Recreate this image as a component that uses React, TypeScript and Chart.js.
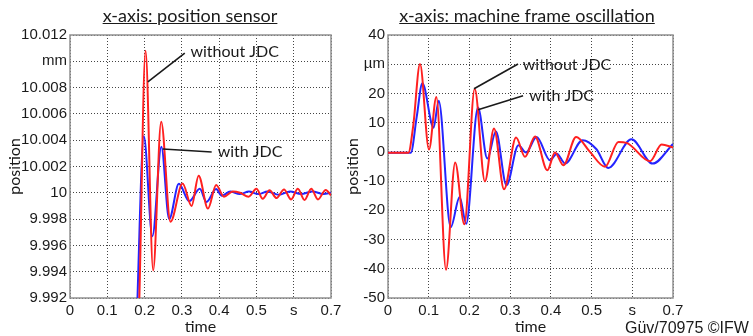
import React, { useEffect, useRef } from "react";
import { Chart, registerables } from "chart.js";

Chart.register(...registerables);

// ---------- data: left panel (position sensor, mm) ----------
const leftRedT = [0.17, 0.186, 0.2026, 0.223, 0.2445, 0.2695, 0.302, 0.326, 0.345, 0.37, 0.392, 0.413, 0.437, 0.456, 0.479, 0.5, 0.517, 0.535, 0.554, 0.574, 0.593, 0.611, 0.629, 0.647, 0.665, 0.686, 0.7];
const leftRedV = [9.975, 9.992, 10.0108, 9.9941, 10.0054, 9.9978, 10.0007, 9.999, 10.0013, 9.9988, 10.0006, 9.9997, 10.0001, 10.0, 9.9997, 10.0003, 9.99955, 10.0002, 9.9996, 10.00025, 9.9995, 10.0003, 9.99945, 10.0003, 9.9995, 10.00022, 9.9998];
const leftBlueT = [0.165, 0.181, 0.198, 0.221, 0.245, 0.266, 0.292, 0.32, 0.348, 0.366, 0.392, 0.407, 0.43, 0.455, 0.48, 0.505, 0.53, 0.56, 0.59, 0.62, 0.65, 0.68, 0.7];
const leftBlueV = [9.975, 9.992, 10.0043, 9.9967, 10.0035, 9.998, 10.00068, 9.99935, 10.0003, 9.9993, 10.00028, 9.99978, 10.0001, 9.9999, 10.0001, 9.9999, 10.0001, 9.99985, 10.0001, 9.9999, 10.0001, 9.9999, 10.0];

// ---------- data: right panel (machine frame oscillation, µm) ----------
const rightRedT = [0, 0.05, 0.062, 0.0786, 0.1007, 0.1188, 0.1425, 0.165, 0.1875, 0.213, 0.238, 0.2604, 0.285, 0.3145, 0.3366, 0.361, 0.3914, 0.41, 0.4308, 0.462, 0.496, 0.533, 0.566, 0.586, 0.6437, 0.672, 0.7];
const rightRedV = [-0.3, -0.3, 9, 30.1, 0.8, 18.8, -40.3, -3.6, -24.8, 21.6, -10.1, 8.0, -12.8, 4.9, -1.7, 5.3, -6.3, -0.2, -4.6, 5.1, 0, -5.1, 3.4, 3.1, -3.2, 2.5, 1.5];
const rightBlueT = [0, 0.056, 0.0705, 0.0844, 0.112, 0.1245, 0.154, 0.176, 0.192, 0.221, 0.244, 0.265, 0.291, 0.3203, 0.339, 0.365, 0.398, 0.4145, 0.435, 0.478, 0.512, 0.541, 0.598, 0.65, 0.7];
const rightBlueV = [-0.3, -0.3, 12, 23.5, 8.3, 17.5, -25.8, -15.4, -24.6, 15.2, -2.3, 7.0, -11.4, 2.3, -0.2, 5.1, -2.9, -0.6, -4.0, 4.0, 0.9, -5.5, 4.3, -4.0, 2.7];

// ---------- ticks ----------
const xTicks = [0, 0.1, 0.2, 0.3, 0.4, 0.5, 0.6, 0.7];
const xTickLabels = ["0", "0.1", "0.2", "0.3", "0.4", "0.5", "s", "0.7"];
const leftYTicks = [9.992, 9.994, 9.996, 9.998, 10.0, 10.002, 10.004, 10.006, 10.008, 10.01, 10.012];
const leftYTickLabels = ["9.992", "9.994", "9.996", "9.998", "10", "10.002", "10.004", "10.006", "10.008", "mm", "10.012"];
const rightYTicks = [-50, -40, -30, -20, -10, 0, 10, 20, 30, 40];
const rightYTickLabels = ["-50", "-40", "-30", "-20", "-10", "0", "10", "20", "µm", "40"];

// ---------- annotations (data coordinates) ----------
const leftNotes = [
  { text: "without JDC", at: [0.323, 10.0107], from: [0.3078, 10.01063], to: [0.2088, 10.00843] },
  { text: "with JDC", at: [0.396, 10.00313], from: [0.38, 10.0031], to: [0.249, 10.00333] },
];
const rightNotes = [
  { text: "without JDC", at: [0.331, 29.8], from: [0.3194, 30.1], to: [0.2113, 21.6] },
  { text: "with JDC", at: [0.347, 19.1], from: [0.3317, 19.2], to: [0.2211, 14.4] },
];

const RED = "#ff2020";
const BLUE = "#2424ff";

const pts = (t: number[], v: number[]) => t.map((x, i) => ({ x, y: v[i] }));

function makeConfig(opts: any) {
  const { red, blue, yMin, yMax, yTicks, yTickLabels, yWidth, pad, notes } = opts;
  const notesPlugin = {
    id: "notes",
    beforeDatasetsDraw(chart: any) {
      const { ctx, chartArea: a } = chart;
      ctx.save();
      ctx.strokeStyle = "#909090";
      ctx.lineWidth = 1.5;
      ctx.strokeRect(a.left, a.top, a.right - a.left, a.bottom - a.top);
      ctx.restore();
    },
    afterDatasetsDraw(chart: any) {
      const { ctx, scales } = chart;
      const x = scales.x, y = scales.y;
      ctx.save();
      ctx.strokeStyle = "#1a1a1a";
      ctx.lineWidth = 1.6;
      ctx.fillStyle = "#1a1a1a";
      ctx.font = "16px Lato";
      ctx.textBaseline = "middle";
      ctx.textAlign = "left";
      notes.forEach((n: any) => {
        ctx.beginPath();
        ctx.moveTo(x.getPixelForValue(n.from[0]), y.getPixelForValue(n.from[1]));
        ctx.lineTo(x.getPixelForValue(n.to[0]), y.getPixelForValue(n.to[1]));
        ctx.stroke();
        ctx.fillText(n.text, x.getPixelForValue(n.at[0]), y.getPixelForValue(n.at[1]));
      });
      ctx.restore();
    },
  };
  const grid = { color: "#444", lineWidth: 1, drawTicks: false };
  const border = { display: false, dash: [1, 2] };
  return {
    type: "line",
    data: {
      datasets: [
        { data: red, borderColor: RED, borderWidth: 2, pointRadius: 0, cubicInterpolationMode: "monotone", fill: false },
        { data: blue, borderColor: BLUE, borderWidth: 2, pointRadius: 0, cubicInterpolationMode: "monotone", fill: false },
      ],
    },
    options: {
      animation: false,
      responsive: false,
      layout: { padding: pad },
      plugins: { legend: { display: false }, tooltip: { enabled: false } },
      scales: {
        x: {
          type: "linear",
          min: 0,
          max: 0.7,
          grid,
          border,
          afterBuildTicks: (s: any) => { s.ticks = xTicks.map((v) => ({ value: v })); },
          afterFit: (s: any) => { s.height = 38; },
          ticks: {
            autoSkip: false,
            maxRotation: 0,
            padding: 4,
            color: "#1a1a1a",
            font: { family: "'Liberation Sans', Arial, sans-serif", size: 15 },
            callback: (_v: any, i: number) => xTickLabels[i],
          },
          title: {
            display: true,
            text: "time",
            color: "#1a1a1a",
            font: { family: "Lato", size: 16 },
            padding: { top: 0, bottom: 0 },
          },
        },
        y: {
          type: "linear",
          min: yMin,
          max: yMax,
          grid,
          border,
          afterBuildTicks: (s: any) => { s.ticks = yTicks.map((v: number) => ({ value: v })); },
          afterFit: (s: any) => { s.width = yWidth; },
          ticks: {
            autoSkip: false,
            padding: 3,
            color: "#1a1a1a",
            font: { family: "'Liberation Sans', Arial, sans-serif", size: 15 },
            callback: (_v: any, i: number) => yTickLabels[i],
          },
          title: {
            display: true,
            text: "position",
            color: "#1a1a1a",
            font: { family: "Lato", size: 16 },
            padding: { top: opts.titlePad, bottom: 0 },
          },
        },
      },
    },
    plugins: [notesPlugin],
  };
}

function Panel({ left, width, config }: { left: number; width: number; config: any }) {
  const ref = useRef<HTMLCanvasElement | null>(null);
  useEffect(() => {
    if (!ref.current) return;
    const chart = new Chart(ref.current, config);
    return () => chart.destroy();
  }, []);
  return (
    <canvas
      ref={ref}
      width={width}
      height={336}
      style={{ position: "absolute", left, top: 0, width, height: 336, display: "block" }}
    />
  );
}

const titleStyle: any = {
  position: "absolute",
  top: 4,
  fontFamily: "Lato, sans-serif",
  fontSize: 18,
  lineHeight: "22px",
  color: "#1a1a1a",
  textAlign: "center",
  textDecoration: "underline",
  whiteSpace: "nowrap",
};

export default function App() {
  const leftConfig = makeConfig({
    red: pts(leftRedT, leftRedV),
    blue: pts(leftBlueT, leftBlueV),
    yMin: 9.992,
    yMax: 10.012,
    yTicks: leftYTicks,
    yTickLabels: leftYTickLabels,
    yWidth: 70,
    titlePad: 5,
    pad: { left: 0, top: 35, right: 39, bottom: 0 },
    notes: leftNotes,
  });
  const rightConfig = makeConfig({
    red: pts(rightRedT, rightRedV),
    blue: pts(rightBlueT, rightBlueV),
    yMin: -50,
    yMax: 40,
    yTicks: rightYTicks,
    yTickLabels: rightYTickLabels,
    yWidth: 48,
    titlePad: 3,
    pad: { left: 0, top: 35, right: 80, bottom: 0 },
    notes: rightNotes,
  });
  return (
    <div style={{ position: "absolute", left: 0, top: 0, width: 753, height: 336, background: "#fff", overflow: "hidden" }}>
      <Panel left={0} width={370} config={leftConfig} />
      <Panel left={340} width={413} config={rightConfig} />
      <div style={{ ...titleStyle, left: 40, width: 300 }}>x-axis: position sensor</div>
      <div style={{ ...titleStyle, left: 377, width: 300 }}>x-axis: machine frame oscillation</div>
      <div
        style={{
          position: "absolute",
          left: 625,
          top: 319,
          fontFamily: "'Liberation Sans', Arial, sans-serif",
          fontSize: 16,
          lineHeight: "18px",
          color: "#1a1a1a",
          whiteSpace: "nowrap",
        }}
      >
        Güv/70975 ©IFW
      </div>
    </div>
  );
}
